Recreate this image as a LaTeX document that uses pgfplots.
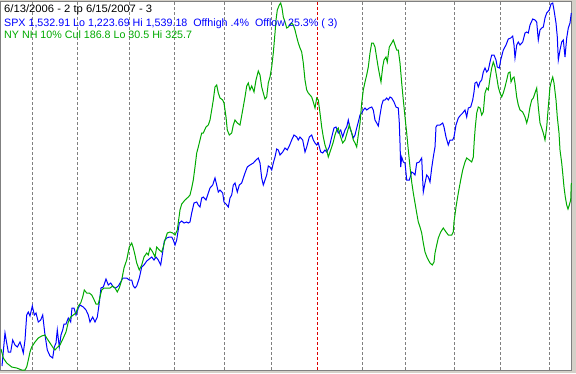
\documentclass[border=0pt]{standalone}
\usepackage{pgfplots}
\pgfplotsset{compat=1.18}
\usepackage{fontspec}
\setmainfont{Liberation Sans}
\definecolor{spx}{RGB}{0,0,255}
\definecolor{nh}{RGB}{0,170,0}
\definecolor{gridgray}{RGB}{128,128,128}
\definecolor{redline}{RGB}{220,0,0}
\definecolor{face}{RGB}{212,208,200}
\begin{document}
\begin{tikzpicture}
\begin{axis}[
  scale only axis, width=576pt, height=373pt,
  xmin=0, xmax=576, ymin=0, ymax=373, y dir=reverse,
  axis line style={draw=none}, ticks=none, clip=false,
]
\fill[face] (axis cs:0,0) rectangle (axis cs:576,373);
\fill[white] (axis cs:1,1) rectangle (axis cs:571.5,370.5);
\draw[gridgray,line width=1pt] (axis cs:0.5,1.5) rectangle (axis cs:571.5,370.5);
\draw[gridgray,line width=1pt,dash pattern=on 3pt off 2pt] (axis cs:32.3,2) -- (axis cs:32.3,370);
\draw[gridgray,line width=1pt,dash pattern=on 3pt off 2pt] (axis cs:77.3,2) -- (axis cs:77.3,370);
\draw[gridgray,line width=1pt,dash pattern=on 3pt off 2pt] (axis cs:129.3,2) -- (axis cs:129.3,370);
\draw[gridgray,line width=1pt,dash pattern=on 3pt off 2pt] (axis cs:174.3,2) -- (axis cs:174.3,370);
\draw[gridgray,line width=1pt,dash pattern=on 3pt off 2pt] (axis cs:224.2,2) -- (axis cs:224.2,370);
\draw[gridgray,line width=1pt,dash pattern=on 3pt off 2pt] (axis cs:271.4,2) -- (axis cs:271.4,370);
\draw[redline,line width=1pt,dash pattern=on 3pt off 2pt] (axis cs:317.4,2) -- (axis cs:317.4,370);
\draw[gridgray,line width=1pt,dash pattern=on 3pt off 2pt] (axis cs:362.5,2) -- (axis cs:362.5,370);
\draw[gridgray,line width=1pt,dash pattern=on 3pt off 2pt] (axis cs:405.5,2) -- (axis cs:405.5,370);
\draw[gridgray,line width=1pt,dash pattern=on 3pt off 2pt] (axis cs:454.6,2) -- (axis cs:454.6,370);
\draw[gridgray,line width=1pt,dash pattern=on 3pt off 2pt] (axis cs:500.4,2) -- (axis cs:500.4,370);
\draw[gridgray,line width=1pt,dash pattern=on 3pt off 2pt] (axis cs:549.5,2) -- (axis cs:549.5,370);

% SPX (pixel positions)
\addplot[spx,line width=1pt,sharp plot] coordinates {
(2,366)(5,333)(6.7,343)(8.3,352)(10.7,352)(12.7,340)(15,345)(17.3,347)(20,342)(21.7,347)(23.3,353)(25,340)(26.7,315)(28.3,312)(30,316)(32.3,306)(34.3,315)(36,313)(38.3,322)(40.7,320)(42.7,315)(45,335)(47.3,350)(50,356)(52.7,358)(54.3,347)(56,343)(57.3,330)(59.3,347)(61,335)(62.7,330)(64,324)(66,324)(68.3,318)(70.7,322)(72,308)(74,308)(76,315)(78.3,308)(80,305)(83.3,307)(86,310)(88.3,315)(90,322)(92.7,317)(95,322)(97.3,317)(99,305)(101,288)(103.3,287)(106,279)(108.3,285)(110.7,283)(113.3,287)(115.7,288)(118.3,286)(120.7,282)(122.7,278)(126.7,278)(129.3,280)(131.7,280)(133.3,286)(135,288)(136.7,286)(139.3,278)(141.7,267)(144,265)(146.7,261)(149.3,259)(151.7,257)(154,260)(156,257)(158.3,260)(160.7,265)(162.7,252)(164.3,241)(166.7,238)(169.3,237)(171.7,237)(173.3,240)(175,245)(176.7,240)(179.3,223)(181.7,221)(184,223)(186.7,222)(188.3,223)(190,222)(191.7,213)(194,203)(196.7,202)(198.3,205)(200,207)(201.7,198)(203.3,197)(206,200)(208.3,193)(210,188)(212.7,185)(215,178)(216.7,185)(218.3,192)(220,190)(222.7,193)(224,202)(226,204)(228.3,207)(230,198)(231.7,195)(233.3,185)(235,183)(237.3,192)(239.3,185)(241.7,183)(243.3,178)(245,173)(247.3,167)(250,165)(253.3,163)(256,160)(258.3,158)(260,163)(261.7,178)(263.3,185)(265,180)(266.7,175)(268.3,166)(270,167)(271.7,170)(273.3,163)(275,157)(276.7,149)(278.3,150)(280,155)(282.7,152)(285,148)(287.3,150)(289.3,146)(291.7,140)(294,135)(296.7,137)(298.3,140)(300,137)(302.7,140)(305,152)(306.7,147)(309.3,137)(311.7,135)(313.3,140)(315,143)(316.7,145)(318.3,143)(320.7,152)(322.7,153)(325,150)(326.7,152)(329.3,147)(331.7,137)(334,128)(336,127)(338.3,133)(340.7,130)(342.7,137)(345,130)(346.7,127)(348.3,120)(350,128)(351.7,133)(353.3,138)(355,135)(356.7,128)(358.3,122)(360,115)(361.7,113)(363.3,110)(365,108)(366.7,110)(369.3,108)(371.7,107)(373.3,110)(375,120)(376.7,123)(378.3,126)(380,115)(381.7,105)(383.3,100)(385,100)(386.7,98)(388.3,100)(390,97)(391.7,98)(394,102)(396,107)(398.3,108)(399.3,123)(400,143)(400.7,167)(401.7,157)(403.3,162)(405,163)(406.7,180)(409.3,180)(411.7,172)(413.3,173)(415,175)(416.7,163)(419.3,162)(421.7,158)(422.7,180)(423.3,192)(425,183)(426.7,175)(428.3,177)(430,182)(431.7,168)(433.3,157)(435,147)(436,127)(437.3,125)(440,125)(442.7,123)(444,127)(446,137)(448.3,145)(450,140)(452.7,140)(454,137)(456,125)(458.3,118)(460.7,115)(462.7,113)(465,110)(466.7,117)(468.3,108)(470.7,107)(472.7,100)(474,92)(475,83)(476.7,82)(478.3,87)(480,82)(481.7,80)(483.3,72)(485,68)(486.7,72)(488.3,70)(490,62)(491.7,55)(494,55)(496,60)(497.3,67)(499.3,68)(500.7,60)(503.3,50)(506,45)(508.3,39)(510.7,38)(512.7,36)(514,45)(515,58)(516.7,45)(518.3,42)(520,45)(522.7,42)(525,33)(526.7,32)(528.3,33)(530,25)(532.7,19)(535,20)(536.7,22)(538.3,40)(540,30)(541.7,28)(543.3,27)(545,18)(546.7,13)(549.3,10)(551,4)(552.7,3)(554,10)(556,23)(557.3,37)(558.3,60)(560,50)(561.7,42)(563.3,40)(565,57)(566.7,38)(568.3,28)(570,23)(571.3,13)
};

% NY NH 10% Cul (pixel positions)
\addplot[nh,line width=1pt,sharp plot] coordinates {
(1,349)(3.3,358)(6.7,363)(11.7,367)(16.7,368)(21.7,370)(25,370)(26.7,367)(28.3,360)(30,352)(31.7,347)(35,342)(38.3,338)(41.7,336)(45,335)(46.7,338)(50,343)(53.3,348)(55,350)(56.7,348)(60,345)(63.3,338)(66,332)(68.3,322)(70.7,317)(73.3,315)(76,313)(78.3,306)(80.7,303)(82.7,297)(84.3,290)(86.7,293)(89.3,293)(91.7,295)(93.3,298)(96,304)(98.3,304)(100,297)(101.7,290)(104,288)(106.7,288)(110,288)(112.7,286)(115,288)(117.3,292)(119.3,288)(121.7,280)(124,268)(126.7,260)(129.3,247)(131.7,243)(133.3,248)(135,255)(136.7,263)(139.3,270)(141.7,265)(144,257)(146.7,253)(148.3,255)(150,248)(152.7,252)(155,257)(156.7,247)(159.3,250)(161.7,252)(163.3,247)(165,240)(167.3,233)(170,232)(172.7,233)(175,235)(177.3,230)(180,210)(181.7,204)(185,200)(188.3,197)(190,195)(191.7,188)(193.3,180)(195,167)(196.7,153)(198.3,147)(200,140)(201.7,133)(203.3,133)(206,127)(208.3,125)(210,120)(211.7,110)(213.3,100)(215,87)(216.7,85)(218.3,93)(220,98)(222.7,100)(224,103)(226,117)(227.3,130)(229.3,135)(231.7,133)(233.3,125)(235,120)(237.3,123)(240,125)(242.7,110)(245,97)(246.7,86)(248.3,83)(250,90)(251.7,86)(254,92)(256,80)(258.3,71)(260,75)(261.7,87)(263.3,93)(265,99)(266.7,97)(268.3,83)(270,77)(271.7,67)(273.3,53)(275,33)(276,20)(277.3,10)(279.3,5)(280.7,3)(282,8)(283.3,17)(285,22)(286.7,28)(288.3,27)(290,25)(291.7,23)(293.3,25)(295,30)(296.7,37)(298.3,43)(300,48)(301.7,52)(303.3,63)(305,80)(306.7,90)(308.3,93)(310,95)(311.7,97)(313.3,102)(315,108)(316.7,98)(318.3,100)(320,113)(321.7,127)(323.3,137)(325,145)(326.7,150)(328.3,157)(330,152)(331.7,147)(333.3,142)(335,135)(336.7,130)(338.3,128)(340,135)(342.7,143)(345,140)(347.3,132)(349.3,125)(351.7,133)(353.3,140)(355,143)(356.7,147)(358.3,135)(360,123)(361.7,103)(363.3,90)(365,82)(366.7,75)(368.3,67)(370,53)(371.7,43)(373.3,43)(375,47)(376.7,58)(378.3,68)(380,77)(381,82)(382.7,67)(384,60)(386,57)(387.3,62)(389.3,47)(391.7,43)(393.3,40)(395,45)(396.7,50)(398.3,50)(400,63)(401.7,83)(403.3,100)(405,117)(406.7,133)(408.3,150)(410,167)(411.7,182)(413.3,193)(415,203)(416.7,213)(418.3,222)(420,227)(421.7,233)(423.3,243)(425,252)(427.3,258)(430,263)(432.3,265)(434,262)(435,253)(436.7,245)(438.3,238)(440.7,232)(443.3,228)(446,232)(448.3,235)(451.7,235)(453.3,232)(454,222)(456,207)(458.3,193)(460.7,180)(462.7,170)(465,162)(466.7,158)(469.3,160)(471.7,162)(473.3,157)(474.3,140)(475.3,127)(476.7,113)(478.3,107)(480,108)(481.7,115)(483.3,112)(485,93)(486.7,88)(488.3,90)(490,78)(491.7,68)(493.3,62)(495,67)(496.7,77)(498.3,87)(500,93)(501.7,97)(503.3,93)(505,87)(506.7,80)(508.3,73)(510,72)(511,82)(512.7,78)(514,77)(515,83)(516.7,97)(518.3,105)(520,110)(522.7,112)(525,117)(526.7,123)(528.3,117)(530,107)(531.7,100)(533.3,98)(535,93)(536.7,88)(538.3,107)(540,123)(541.7,128)(543.3,133)(545,140)(546.7,127)(548.3,107)(550,87)(551.7,80)(552.7,77)(554,83)(556,100)(557.3,117)(559,133)(560,150)(561.7,163)(562.7,173)(564,187)(565.3,197)(566.7,205)(568,209)(569.3,205)(570.7,200)(571.3,183)
};

\node[anchor=base west,inner sep=0pt,font=\fontsize{10.7}{12}\selectfont,text=black,xscale=1.05] at (axis cs:4,12.7) {6/13/2006 - 2 tp 6/15/2007 - 3};
\node[anchor=base west,inner sep=0pt,font=\fontsize{10.7}{12}\selectfont,text=spx] at (axis cs:4,26.5) {SPX 1,532.91 Lo 1,223.69 Hi 1,539.18\ \ Offhigh .4\%\ \ Offlow 25.3\% ( 3)};
\node[anchor=base west,inner sep=0pt,font=\fontsize{10.7}{12}\selectfont,text=nh] at (axis cs:4,38.5) {NY NH 10\% Cul 186.8 Lo 30.5 Hi 325.7};
\end{axis}
\end{tikzpicture}
\end{document}
